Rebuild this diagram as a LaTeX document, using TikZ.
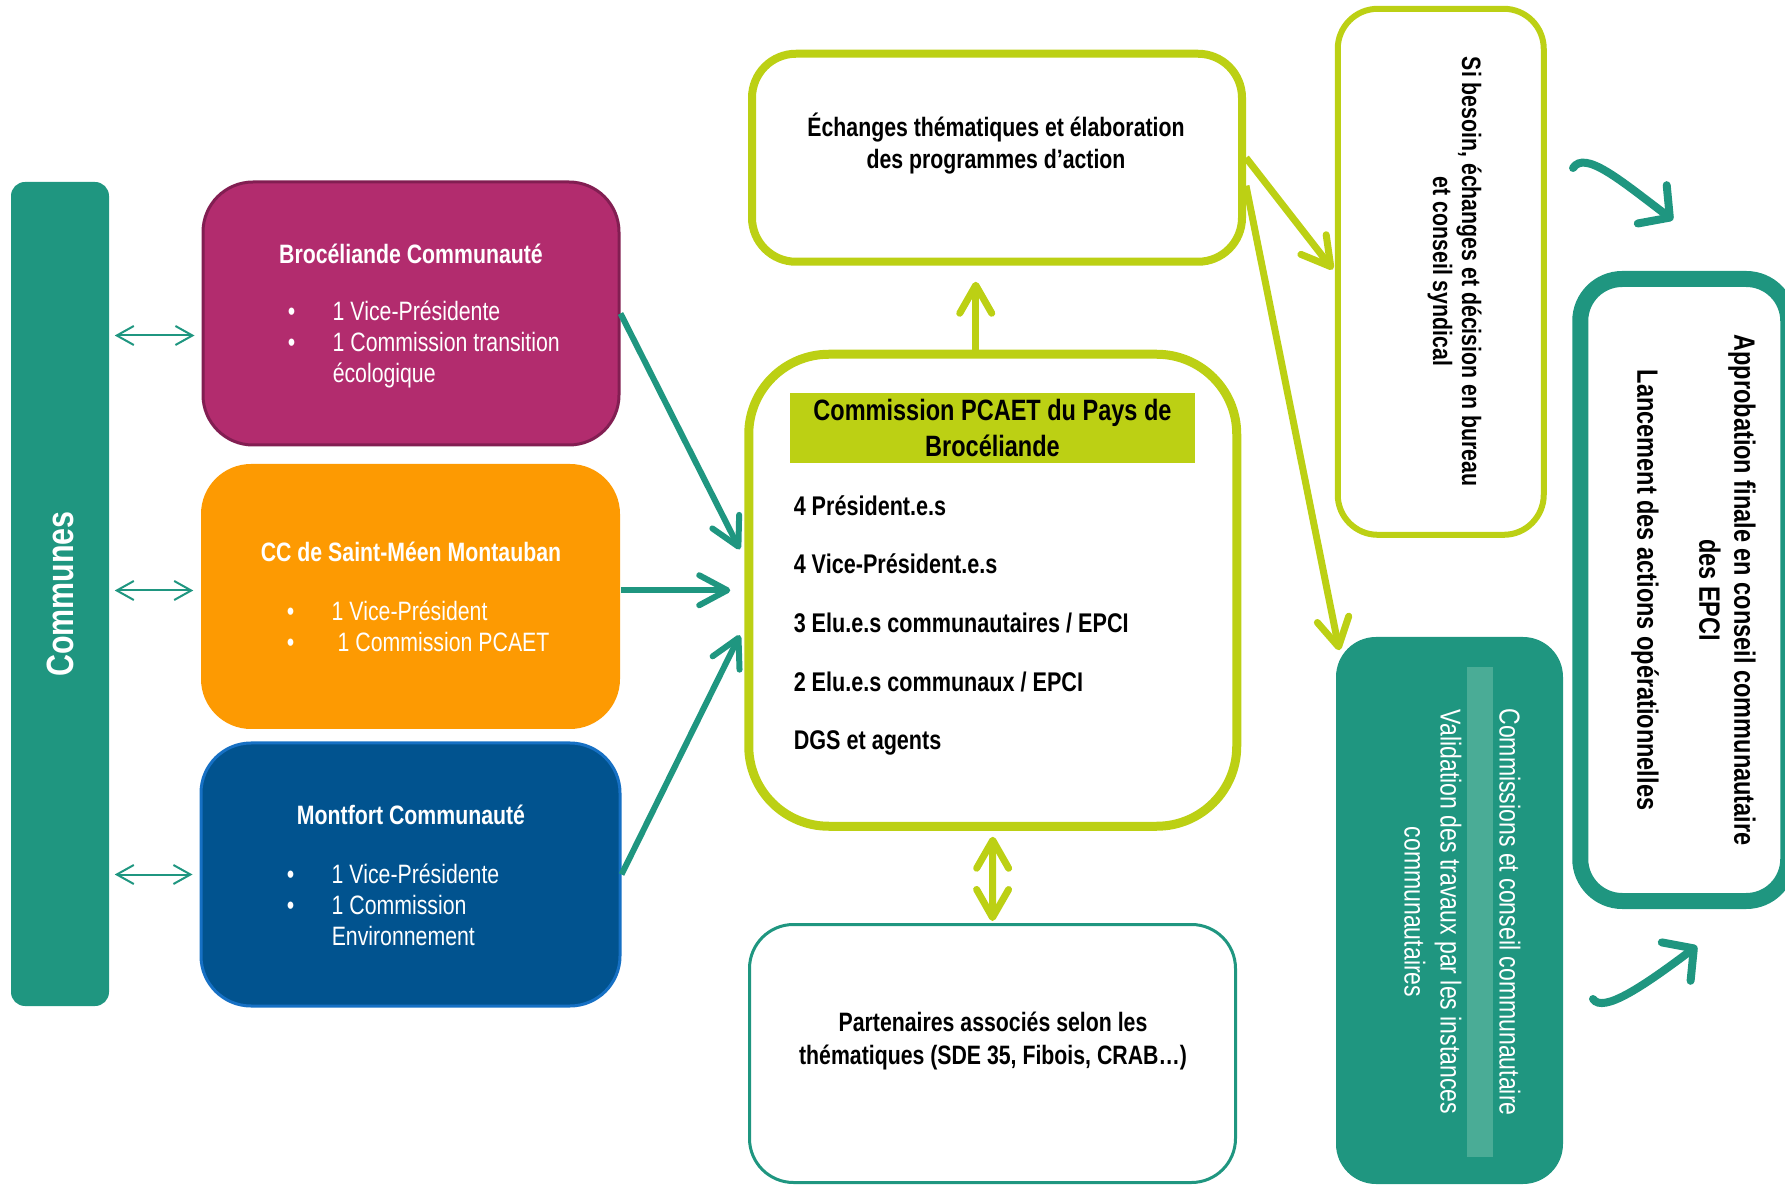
\documentclass[tikz,border=0pt]{standalone}
\usepackage{fontspec}
\setmainfont{Liberation Sans}[FakeStretch=0.8]
\usetikzlibrary{arrows.meta}

\definecolor{pcTeal}{RGB}{31,150,128}
\definecolor{pcLime}{RGB}{188,208,20}
\definecolor{pcPlum}{RGB}{178,44,110}
\definecolor{pcPlumLine}{RGB}{130,30,82}
\definecolor{pcOrange}{RGB}{253,154,2}
\definecolor{pcNavy}{RGB}{1,83,143}
\definecolor{pcNavyLine}{RGB}{22,112,196}
\definecolor{pcStrip}{RGB}{74,172,150}

\newcommand{\puce}[1]{\makebox[21pt][l]{\hspace*{-1.5pt}\textbullet}#1}

\tikzset{every picture/.style={line width=0.75pt}}
\tikzset{
  tile/.style={rectangle, rounded corners=25pt, inner sep=0pt},
  title/.style={text=white, font=\bfseries\fontsize{13.3}{16}\selectfont},
  listtxt/.style={anchor=west, align=left, inner sep=0pt, text=white, font=\fontsize{13.3}{15.5}\selectfont},
  duo/.style={pcTeal, line width=1pt, <->, >={Straight Barb[length=8.5pt,width=9.5pt]}},
  feed/.style={pcTeal, line width=3pt, ->, >={Straight Barb[length=14pt,width=15pt,round]}},
  limeArrow/.style={pcLime, line width=3.5pt, ->, >={Straight Barb[length=14pt,width=16pt,round]}},
  swoop/.style={pcTeal, line width=4pt, line cap=round, ->, >={Straight Barb[length=11pt,width=24pt,round]}},
}

\begin{document}
\begin{tikzpicture}[x=0.5pt,y=0.5pt,yscale=-1,xscale=1]
\useasboundingbox (0,0) rectangle (1785,1187);

%Rounded Rect
\node (communes) at (60,594) [rectangle, rounded corners=7pt, fill=pcTeal, minimum width=49pt, minimum height=412pt] {};
%Rounded Rect
\node (broc) at (411,313.5) [tile, fill=pcPlum, draw=pcPlumLine, line width=1.5pt, minimum width=208pt, minimum height=131.5pt] {};
%Rounded Rect
\node (stmeen) at (410.5,596.5) [tile, fill=pcOrange, minimum width=209.5pt, minimum height=132.5pt] {};
%Rounded Rect
\node (montfort) at (410.5,874.5) [tile, fill=pcNavy, draw=pcNavyLine, line width=1.5pt, minimum width=209.5pt, minimum height=131.5pt] {};
%Rounded Rect
\node (ech) at (997,157.75) [tile, rounded corners=22pt, draw=pcLime, line width=4pt, minimum width=245pt, minimum height=104pt] {};
%Rounded Rect
\node (comm) at (992.75,590.25) [tile, rounded corners=40pt, draw=pcLime, line width=4.5pt, minimum width=244pt, minimum height=236pt] {};
%Shape: Rectangle
\node (header) at (992.5,428) [rectangle, fill=pcLime, minimum width=202.5pt, minimum height=35pt, align=center, font=\bfseries\fontsize{14.7}{18}\selectfont] {Commission PCAET du Pays de\\Brocéliande};
%Rounded Rect
\node (part) at (992.5,1053.5) [tile, rounded corners=22pt, draw=pcTeal, line width=1.5pt, minimum width=243pt, minimum height=129pt] {};
%Rounded Rect
\node (sib) at (1440.75,271.8) [tile, rounded corners=20pt, draw=pcLime, line width=3pt, minimum width=103pt, minimum height=263pt] {};
%Rounded Rect
\node (coms) at (1449.5,910.5) [tile, rounded corners=20pt, fill=pcTeal, minimum width=113.5pt, minimum height=273.5pt] {};
%Shape: Rectangle
\node (strip) at (1480,912) [rectangle, fill=pcStrip, minimum width=13pt, minimum height=245pt] {};
%Rounded Rect
\node (appr) at (1684.25,590) [tile, rounded corners=21pt, draw=pcTeal, line width=8pt, minimum width=104pt, minimum height=311pt] {};

% Text Node
\draw (60,594) node (communesTxt) [rotate=90, text=white, font=\bfseries\fontsize{19}{22}\selectfont] {Communes};
% Text Node
\draw (411,254) node (brocTitle) [title] {Brocéliande Communauté};
% Text Node
\draw (290,344) node (brocList) [listtxt] {\puce{1 Vice-Présidente}\\\puce{1 Commission transition}\\\hspace*{21pt}écologique};
% Text Node
\draw (411,552) node (stmeenTitle) [title] {CC de Saint-Méen Montauban};
% Text Node
\draw (289,626) node (stmeenList) [listtxt] {\puce{1 Vice-Président}\\\puce{\hspace*{3pt}1 Commission PCAET}};
% Text Node
\draw (411,815) node (montTitle) [title] {Montfort Communauté};
% Text Node
\draw (289,905) node (montList) [listtxt] {\puce{1 Vice-Présidente}\\\puce{1 Commission}\\\hspace*{21pt}Environnement};
% Text Node
\draw (793,625.5) node (members) [anchor=west, align=left, inner sep=0pt, font=\bfseries\fontsize{13.5}{29.3}\selectfont] {4 Président.e.s\\4 Vice-Président.e.s\\3 Elu.e.s communautaires / EPCI\\2 Elu.e.s communaux / EPCI\\DGS et agents};
% Text Node
\draw (996,144) node (echTxt) [align=center, font=\bfseries\fontsize{13.3}{16}\selectfont] {Échanges thématiques et élaboration\\des programmes d’action};
% Text Node
\draw (993,1041.5) node (partTxt) [align=center, font=\bfseries\fontsize{13.3}{16.5}\selectfont] {Partenaires associés selon les\\thématiques (SDE 35, Fibois, CRAB…)};
% Text Node
\draw (1454.5,271.5) node (sibTxt) [rotate=-90, align=center, font=\bfseries\fontsize{13.3}{14.5}\selectfont] {Si besoin, échanges et décision en bureau\\et conseil syndical};
% Text Node
\draw (1462.5,912) node (comsTxt) [rotate=-90, align=center, text=white, font=\fontsize{14.4}{18}\selectfont] {Commissions et conseil communautaire\\[11.5pt]Validation des travaux par les instances\\communautaires};
% Text Node
\draw (1693.5,590) node (apprTxt) [rotate=-90, align=center, font=\bfseries\fontsize{14.7}{17.5}\selectfont] {Approbation finale en conseil communautaire\\des EPCI\\[13.5pt]Lancement des actions opérationnelles};

%Straight Lines
\coordinate (brocLink) at ([yshift=11pt]broc.west);
\draw[duo, shorten <=2.5pt, shorten >=3.5pt] (brocLink -| communes.east) -- (brocLink);
%Straight Lines
\coordinate (stmeenLink) at ([yshift=-3pt]stmeen.west);
\draw[duo, shorten <=2.5pt, shorten >=3.5pt] (stmeenLink -| communes.east) -- (stmeenLink);
%Straight Lines
\draw[duo, shorten <=2.5pt, shorten >=3.5pt] (montfort.west -| communes.east) -- (montfort.west);

%Straight Lines
\draw[feed, shorten >=5pt] (broc.east) -- ([yshift=-16pt]comm.west);
%Straight Lines
\draw[feed, shorten >=7pt] (comm.west -| stmeen.east) -- (comm.west);
%Straight Lines
\draw[feed, shorten >=5pt] (montfort.east) -- ([yshift=18pt]comm.west);

%Straight Lines
\coordinate (upFoot) at ([xshift=-8.5pt]comm.north);
\draw[limeArrow, shorten >=8pt] (upFoot) -- (upFoot |- ech.south);
%Straight Lines
\draw[limeArrow, <->, shorten <=3pt, shorten >=1pt] (comm.south) -- (part.north);
%Straight Lines
\draw[limeArrow, shorten >=1.5pt] (ech.east) -- (sib.west);
%Straight Lines
\draw[limeArrow] ([yshift=14pt]ech.east) -- ([shift={(2pt,7pt)}]coms.north west);

%Curve Lines
\coordinate (swoopA) at (1573,168);
\coordinate (swoopAEnd) at (1673,220);
\draw[swoop] (swoopA) .. controls (1585,150) and (1620,180) .. (swoopAEnd);
%Curve Lines
\coordinate (swoopB) at (1593,999);
\coordinate (swoopBEnd) at (1697,946);
\draw[swoop] (swoopB) .. controls (1603,1014) and (1645,985) .. (swoopBEnd);

\end{tikzpicture}
\end{document}
